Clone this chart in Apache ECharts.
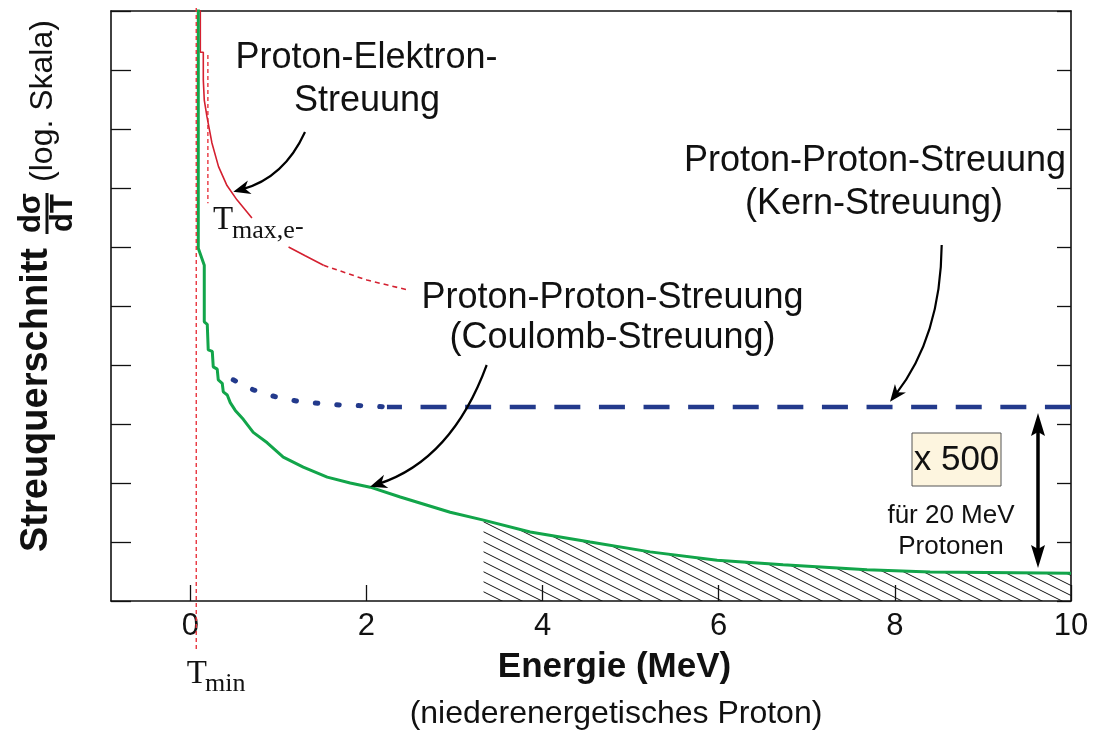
<!DOCTYPE html>
<html>
<head>
<meta charset="utf-8">
<script src="https://cdn.jsdelivr.net/npm/echarts@6/dist/echarts.min.js"></script>
<style>
  html, body { margin: 0; padding: 0; background: #ffffff; }
  #chart { width: 1094px; height: 733px; }
</style>
</head>
<body>
<div id="chart"></div>
<script>
// ---- data: energy of the low-energy proton (MeV) and dσ/dT (arbitrary units, log scale) ----
const X_TICKS = [0, 2, 4, 6, 8, 10];
// one tick per decade on the (unlabelled) logarithmic cross-section axis
const Y_TICKS = [1, 1e1, 1e2, 1e3, 1e4, 1e5, 1e6, 1e7, 1e8, 1e9, 1e10];

// proton-proton Coulomb scattering (stepped histogram)
const coulombEnergy = [0.091, 0.091, 0.159, 0.159, 0.193, 0.204, 0.25, 0.261, 0.306, 0.318, 0.363, 0.375, 0.42, 0.454,
  0.511, 0.602, 0.715, 0.874, 1.056, 1.283, 1.555, 1.816, 2.043, 2.384, 2.951, 3.33, 3.859, 4.54, 5.221, 5.982,
  6.731, 7.684, 8.4, 10.0];
const coulombSigma = [3e10, 9.5e5, 4.9e5, 5.4e4, 4.9e4, 1.8e4, 1.7e4, 9.3e3, 8.5e3, 5.6e3, 4.9e3, 3.5e3, 3.1e3, 2.3e3,
  1.7e3, 1.2e3, 720, 480, 275, 186, 126, 100, 85, 58, 32, 23.5, 14.8, 10, 6.8, 4.9, 4.1, 3.4, 3.1, 2.95];
// hatched region under the Coulomb curve starts here
const HATCH_FROM = 3.33;

// proton-electron scattering ('-' marks the break under the T_max label)
const electronEnergy = [0.114, 0.114, 0.148, 0.148, 0.159, 0.159, 0.19, 0.246, 0.321, 0.417, 0.53, 0.70, '-', 1.116, 1.305, 1.513];
const electronSigma  = [3e10, 2.0e9, 2.0e9, 6.8e8, 6.8e8, 3.1e8, 1.6e8, 5.8e7, 2.3e7, 1.1e7, 6.3e6, 3.1e6, '-', 1.0e6, 7.1e5, 4.9e5];
const electronTailEnergy = [1.513, 2.006, 2.478];
const electronTailSigma  = [4.9e5, 2.75e5, 1.86e5];

// proton-proton nuclear scattering
const nuclearNearEnergy = [0.488, 0.715, 0.965, 1.211, 1.453, 1.722, 1.964, 2.233];
const nuclearNearSigma  = [5.6e3, 3.8e3, 2.9e3, 2.45e3, 2.24e3, 2.09e3, 2.04e3, 1.95e3];
const nuclearFarEnergy  = [2.233, 10.0];
const nuclearFarSigma   = [1.95e3, 1.95e3];

// kinematic limits
const T_MIN = 0.068;
const T_MAX_E = 0.2;
const T_MAX_RANGE = [1.8e9, 5.5e6];

const zip = (xs, ys) => xs.map((x, i) => [x, ys[i]]);
const coulomb = zip(coulombEnergy, coulombSigma);
const hatch = coulomb.filter(p => p[0] >= HATCH_FROM);

const GREEN = '#12a54a';
const RED = '#d42030';
const RED_LIGHT = '#e8343e';
const BLUE = '#233a8c';
const SANS = '"Liberation Sans", Arial, Helvetica, sans-serif';
const SERIF = '"Liberation Serif", "Times New Roman", serif';

function hatchCanvas() {
  const c = document.createElement('canvas');
  c.width = 20; c.height = 10;
  const g = c.getContext('2d');
  g.strokeStyle = '#111111';
  g.lineWidth = 1;
  for (const off of [-10, 0, 10]) {
    g.beginPath();
    g.moveTo(0, off);
    g.lineTo(20, off + 10);
    g.stroke();
  }
  return c;
}

const chart = echarts.init(document.getElementById('chart'), null, { renderer: 'canvas' });

const axisLine = { show: true, onZero: false, lineStyle: { color: '#111', width: 1.6 } };

function logAxis(position, tickLength) {
  return {
    type: 'log', logBase: 10, min: 1, max: 1e10, position,
    axisLine, splitLine: { show: false }, minorTick: { show: false },
    axisTick: { show: true, inside: true, length: tickLength, customValues: Y_TICKS,
      lineStyle: { color: '#111', width: 1.3 } },
    axisLabel: { show: false }
  };
}

chart.setOption({
  animation: false,
  backgroundColor: '#ffffff',
  grid: { left: 111, top: 11, right: 23, bottom: 132, containLabel: false, outerBoundsMode: 'none' },
  xAxis: [
    {
      type: 'value', min: -0.9, max: 10, position: 'bottom',
      axisLine,
      splitLine: { show: false },
      axisTick: { inside: true, length: 16, lineStyle: { color: '#111', width: 1.3 }, customValues: X_TICKS },
      axisLabel: { customValues: X_TICKS, color: '#111', fontFamily: SANS, fontSize: 31, margin: 10 }
    },
    {
      type: 'value', min: -0.9, max: 10, position: 'top',
      axisLine, splitLine: { show: false }, axisTick: { show: false }, axisLabel: { show: false }
    }
  ],
  yAxis: [logAxis('left', 20), logAxis('right', 14)],
  series: [
    {
      name: 'hatch', type: 'line', data: hatch, symbol: 'none', z: 2,
      lineStyle: { width: 0, opacity: 0 },
      areaStyle: { color: { image: hatchCanvas(), repeat: 'repeat' }, opacity: 1, origin: 'start' }
    },
    {
      name: 'Coulomb', type: 'line', data: coulomb, symbol: 'none', z: 5,
      lineStyle: { color: GREEN, width: 3 }
    },
    {
      name: 'Elektron', type: 'line', data: zip(electronEnergy, electronSigma), symbol: 'none', z: 4,
      connectNulls: false, lineStyle: { color: RED, width: 1.6 }
    },
    {
      name: 'Elektron Ausläufer', type: 'line', data: zip(electronTailEnergy, electronTailSigma), symbol: 'none', z: 4,
      lineStyle: { color: RED, width: 1.6, type: [5, 4] }
    },
    {
      name: 'Tmax', type: 'line', data: [[T_MAX_E, T_MAX_RANGE[0]], [T_MAX_E, T_MAX_RANGE[1]]], symbol: 'none', z: 3,
      lineStyle: { color: RED_LIGHT, width: 1.4, type: [4, 3] }
    },
    {
      name: 'Kern nah', type: 'line', data: zip(nuclearNearEnergy, nuclearNearSigma), symbol: 'none', z: 4,
      lineStyle: { color: BLUE, width: 5, type: [2.5, 19], cap: 'round' }
    },
    {
      name: 'Kern', type: 'line', data: zip(nuclearFarEnergy, nuclearFarSigma), symbol: 'none', z: 4,
      lineStyle: { color: BLUE, width: 4.5, type: [26, 18.6], dashOffset: 11 }
    }
  ]
});

// ---- annotations ----
function text(x, y, str, font, opts) {
  const o = opts || {};
  return {
    type: 'text', x, y, z: 100, rotation: o.rotation || 0,
    style: {
      text: str, font, fill: o.fill || '#111',
      align: o.align || 'center', textAlign: o.align || 'center',
      verticalAlign: 'middle', textVerticalAlign: 'middle'
    }
  };
}

function arrowHead(tx, ty, dx, dy, len, half, notch, z) {
  const l = Math.hypot(dx, dy);
  const ux = dx / l, uy = dy / l;
  const px = -uy, py = ux;
  const bx = tx - ux * len, by = ty - uy * len;
  return {
    type: 'polygon', z: z || 100,
    shape: { points: [[tx, ty], [bx + px * half, by + py * half], [tx - ux * (len - notch), ty - uy * (len - notch)], [bx - px * half, by - py * half]] },
    style: { fill: '#000' }
  };
}

function curvedArrow(x0, y0, cx, cy, tx, ty) {
  const dx = tx - cx, dy = ty - cy;
  const l = Math.hypot(dx, dy);
  const ex = tx - dx / l * 9, ey = ty - dy / l * 9;
  return [
    { type: 'bezierCurve', z: 99, shape: { x1: x0, y1: y0, cpx1: cx, cpy1: cy, x2: ex, y2: ey },
      style: { stroke: '#000', lineWidth: 2.2, fill: null } },
    arrowHead(tx, ty, dx, dy, 17, 7, 5)
  ];
}

const xMin = chart.convertToPixel({ xAxisIndex: 0 }, T_MIN);

const BIG = '36px ' + SANS;
const elements = [
  // T_min marker runs below the axis to its label
  { type: 'line', z: 50, shape: { x1: xMin, y1: 8, x2: xMin, y2: 650 },
    style: { stroke: RED_LIGHT, lineWidth: 1.4, lineDash: [4, 3] } },
  text(186.7, 674, 'T', '33px ' + SERIF, { align: 'left' }),
  text(205, 684.5, 'min', '26px ' + SERIF, { align: 'left' }),

  text(213, 220.6, 'T', '33px ' + SERIF, { align: 'left' }),
  text(232, 231.2, 'max,e', '26px ' + SERIF, { align: 'left' }),
  text(295, 227, '-', '26px ' + SERIF, { align: 'left' }),

  text(366.5, 58.5, 'Proton-Elektron-', BIG),
  text(367, 101, 'Streuung', BIG),
  text(875, 161, 'Proton-Proton-Streuung', BIG),
  text(874, 204, '(Kern-Streuung)', BIG),
  text(612.5, 298.5, 'Proton-Proton-Streuung', BIG),
  text(612.5, 338, '(Coulomb-Streuung)', BIG),

  ...curvedArrow(305, 132, 284, 178, 233.3, 191.7),
  ...curvedArrow(486.7, 365, 451.7, 460, 370, 486.7),
  ...curvedArrow(941.7, 245, 940.8, 336.7, 890, 401.7),

  // ×500 factor box and double arrow
  { type: 'rect', z: 90, shape: { x: 912, y: 433, width: 89, height: 53 },
    style: { fill: '#fdf5df', stroke: '#555', lineWidth: 1 } },
  text(956.5, 460, 'x 500', '35px ' + SANS),
  text(951, 516, 'für 20 MeV', '26px ' + SANS),
  text(951, 547, 'Protonen', '26px ' + SANS),
  { type: 'line', z: 99, shape: { x1: 1038, y1: 428, x2: 1038, y2: 553 },
    style: { stroke: '#000', lineWidth: 3.5 } },
  arrowHead(1038, 413, 0, -1, 23, 7, 4),
  arrowHead(1038, 568, 0, 1, 23, 7, 4),

  // axis titles
  text(614.5, 667, 'Energie (MeV)', 'bold 35px ' + SANS),
  text(616, 714, '(niederenergetisches Proton)', '32px ' + SANS),

  text(37, 400, 'Streuquerschnitt', 'bold 38px ' + SANS, { rotation: Math.PI / 2 }),
  text(31, 213, 'dσ', 'bold 31px ' + SANS, { rotation: Math.PI / 2 }),
  { type: 'line', z: 100, shape: { x1: 47, y1: 193, x2: 47, y2: 234 }, style: { stroke: '#111', lineWidth: 3 } },
  text(63, 213, 'dT', 'bold 31px ' + SANS, { rotation: Math.PI / 2 }),
  text(43, 101, '(log. Skala)', '32px ' + SANS, { rotation: Math.PI / 2 })
];

chart.setOption({ graphic: { elements } });
</script>
</body>
</html>
